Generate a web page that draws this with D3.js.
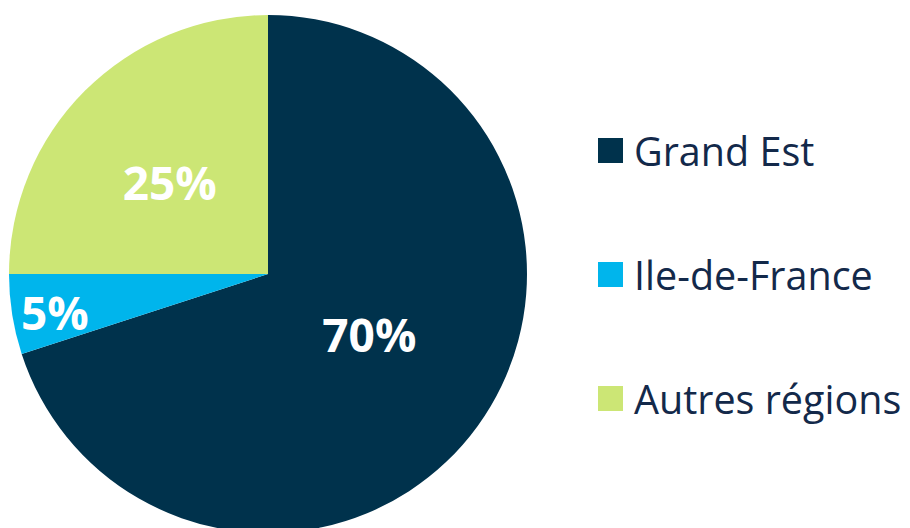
<!DOCTYPE html>
<html>
<head>
<meta charset="utf-8">
<script src="https://cdn.jsdelivr.net/npm/d3@7"></script>
<style>
  html, body { margin: 0; padding: 0; background: #fff; }
  svg { display: block; }
</style>
</head>
<body>
<svg id="chart" width="910" height="528"></svg>
<script>
const categories = ["Grand Est", "Ile-de-France", "Autres régions"];
const values = [70, 5, 25];
const labels = ["70%", "5%", "25%"];
const colors = ["#00324C", "#00B5EC", "#CCE675"];

const W = 910, H = 528;
const cx = 268, cy = 274, R = 259;
const labelRadiusFrac = [0.45, 0.88, 0.52];
const labelNudge = [[7, -9], [12, 2], [-3, 3]];

const svg = d3.select("#chart");
const data = categories.map((c, i) => ({ cat: c, value: values[i], label: labels[i], color: colors[i], i }));

const pie = d3.pie().sort(null).value(d => d.value);
const arcs = pie(data);
const arc = d3.arc().innerRadius(0).outerRadius(R);

const g = svg.append("g").attr("transform", `translate(${cx},${cy})`);
g.selectAll("path.slice").data(arcs).enter().append("path")
  .attr("class", "slice")
  .attr("d", arc)
  .attr("fill", d => d.data.color);

g.selectAll("text.lbl").data(arcs).enter().append("text")
  .attr("class", "lbl")
  .attr("transform", d => {
    const r = R * labelRadiusFrac[d.data.i];
    const a = d3.arc().innerRadius(r).outerRadius(r);
    const [x, y] = a.centroid(d);
    const [nx, ny] = labelNudge[d.data.i];
    return `translate(${x + nx},${y + ny})`;
  })
  .attr("text-anchor", "middle")
  .attr("dominant-baseline", "central")
  .attr("font-family", "'Open Sans', 'Noto Sans', sans-serif")
  .attr("font-weight", "bold")
  .attr("font-size", 46)
  .attr("fill", "#ffffff")
  .text(d => d.data.label);

const y = d3.scalePoint().domain(categories).range([150.5, 398.5]);
const leg = svg.append("g");
const items = leg.selectAll("g").data(data).enter().append("g")
  .attr("transform", d => `translate(598,${y(d.cat)})`);
items.append("rect")
  .attr("x", 0).attr("y", -12.5).attr("width", 25).attr("height", 25)
  .attr("fill", d => d.color);
items.append("text")
  .attr("x", 36).attr("y", 0)
  .attr("dominant-baseline", "central")
  .attr("font-family", "'Open Sans', 'Noto Sans', sans-serif")
  .attr("font-size", 39.5)
  .attr("fill", "#13294A")
  .text(d => d.cat);
</script>
</body>
</html>
